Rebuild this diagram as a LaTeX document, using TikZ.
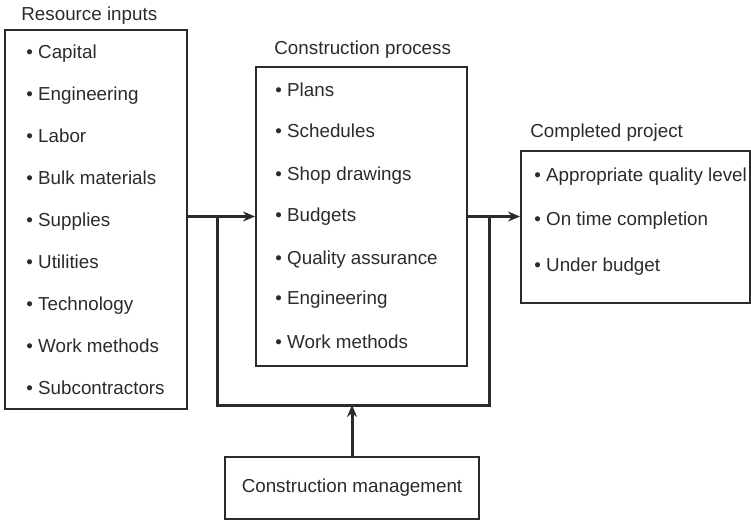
\documentclass[tikz,border=0pt]{standalone}
\usepackage{fontspec}
\setmainfont{Liberation Sans}
\usepackage{tikz}
\usetikzlibrary{positioning}
\usetikzlibrary{arrows.meta}
\definecolor{trait}{HTML}{2B2B2B}
\tikzstyle{bloc}=[rectangle,draw=trait,line width=1pt,inner sep=0pt,
        text=trait,font=\fontsize{9.4}{11}\selectfont]
\tikzstyle{titre}=[anchor=base west,inner sep=0pt,text=trait,
        font=\fontsize{9.4}{11}\selectfont]
\tikzstyle{item}=[titre]
\tikzstyle{ligne}=[draw=trait,line width=1.5pt]
\tikzstyle{suite}=[ligne,-{Stealth[length=6pt,width=5pt]}]

\begin{document}
\begin{tikzpicture}[x=0.5pt,y=-0.5pt]
\useasboundingbox (0,0) rectangle (751,521);
\node[bloc,minimum width=91pt,minimum height=189.5pt] (inputs) at (96,219.5) {};
\node[bloc,minimum width=105.5pt,minimum height=149.5pt] (process) at (361.5,216.5) {};
\node[bloc,minimum width=114.5pt,minimum height=76pt] (project) at (635.5,227) {};
\node[bloc,minimum width=127pt,minimum height=31pt] (mgmt) at (352,488) {Construction management};
%Titres
\node[titre] (t-inputs) at (21,20) {Resource inputs};
\node[titre] (t-process) at (274,54) {Construction process};
\node[titre] (t-project) at (530,137) {Completed project};
%Listes
\foreach \t/\y [count=\i] in {Capital/52,Engineering/94,Labor/136,Bulk materials/178,
        Supplies/220,Utilities/262,Technology/304,Work methods/346,Subcontractors/388}
  \node[item] (in-\i) at (26,\y+6) {\textbullet\ \t};
\foreach \t/\y [count=\i] in {Plans/90,Schedules/131,Shop drawings/174,Budgets/215,
        Quality assurance/258,Engineering/298,Work methods/342}
  \node[item] (pr-\i) at (275,\y+6) {\textbullet\ \t};
\foreach \t/\y [count=\i] in {Appropriate quality level/175,On time completion/219,
        Under budget/265}
  \node[item] (pj-\i) at (534,\y+6) {\textbullet\ \t};
%Fleches
\coordinate (gauche) at (217,405);
\coordinate (droite) at (489,405);
\draw[suite] (inputs.east |- process.west) -- (process.west);
\draw[suite] (process.east) -- (project.west |- process.east);
\draw[ligne] (gauche |- process.west) -- (gauche) -- (droite) -- (droite |- process.east);
\draw[suite] (mgmt.north) -- (mgmt.north |- droite);
\end{tikzpicture}
\end{document}
